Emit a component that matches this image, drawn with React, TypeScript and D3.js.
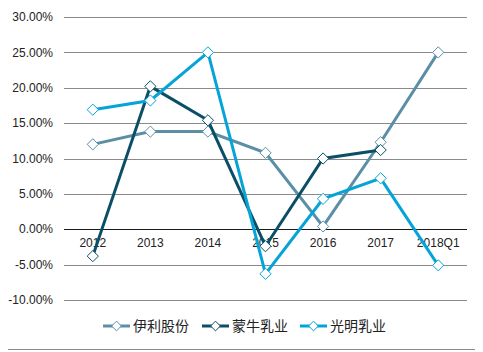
import React, { useEffect, useRef } from "react";
import * as d3 from "d3";

const categories = ["2012", "2013", "2014", "2015", "2016", "2017", "2018Q1"];
const seriesNames = ["伊利股份", "蒙牛乳业", "光明乳业"];
const yili = [12.0, 13.8, 13.8, 10.8, 0.4, 12.3, 25.0];
const mengniu = [-3.8, 20.2, 15.4, -2.4, 10.0, 11.2, null];
const guangming = [16.9, 18.2, 25.0, -6.3, 4.3, 7.2, -5.1];
const yTicks = [-10, -5, 0, 5, 10, 15, 20, 25, 30];
const colors = ["#5b8fa6", "#0b4f67", "#05a4d8"];

const App: React.FC = () => {
  const ref = useRef<SVGSVGElement | null>(null);

  useEffect(() => {
    if (!ref.current) return;
    const width = 483;
    const height = 352;
    const margin = { top: 17, right: 16, bottom: 52, left: 64 };

    const svg = d3.select(ref.current);
    svg.selectAll("*").remove();
    svg.attr("width", width).attr("height", height);

    // outer frame
    svg
      .append("rect")
      .attr("x", 1.5)
      .attr("y", 1.5)
      .attr("width", width - 4)
      .attr("height", height - 4)
      .attr("fill", "white")
      .attr("stroke", "#8c8c8c");

    const x = d3
      .scaleBand<string>()
      .domain(categories)
      .range([margin.left, width - margin.right]);
    const y = d3
      .scaleLinear()
      .domain([-10, 30])
      .range([height - margin.bottom, margin.top]);

    const font = "Arial, 'Liberation Sans', 'Noto Sans CJK SC', sans-serif";

    // grid
    svg
      .append("g")
      .selectAll("line")
      .data(yTicks)
      .join("line")
      .attr("x1", margin.left)
      .attr("x2", width - margin.right)
      .attr("y1", (d) => Math.round(y(d)) + 0.5)
      .attr("y2", (d) => Math.round(y(d)) + 0.5)
      .attr("stroke", (d) => (d === 0 ? "#1a1a1a" : "#8a8a8a"))
      .attr("stroke-width", 1);

    // y labels
    svg
      .append("g")
      .selectAll("text")
      .data(yTicks)
      .join("text")
      .attr("x", 53)
      .attr("y", (d) => y(d))
      .attr("dy", "0.35em")
      .attr("text-anchor", "end")
      .style("font-family", font)
      .style("font-size", "12px")
      .attr("fill", "#222")
      .text((d) => `${d.toFixed(2)}%`);

    // x labels
    svg
      .append("g")
      .selectAll("text")
      .data(categories)
      .join("text")
      .attr("x", (d) => x(d)! + x.bandwidth() / 2)
      .attr("y", y(0) + 18)
      .attr("text-anchor", "middle")
      .style("font-family", font)
      .style("font-size", "12px")
      .attr("fill", "#222")
      .text((d) => d);

    const allSeries = [yili, mengniu, guangming];
    const line = d3
      .line<number | null>()
      .defined((d) => d !== null)
      .x((_, i) => x(categories[i])! + x.bandwidth() / 2)
      .y((d) => y(d as number));

    const diamond = d3.symbol().type(d3.symbolDiamond2).size(80);

    allSeries.forEach((vals, si) => {
      const g = svg.append("g");
      g.append("path")
        .datum(vals)
        .attr("d", line)
        .attr("fill", "none")
        .attr("stroke", colors[si])
        .attr("stroke-width", 3);
      g.selectAll("path.m")
        .data(vals.map((v, i) => ({ v, i })).filter((d) => d.v !== null))
        .join("path")
        .attr("class", "m")
        .attr("d", diamond()!)
        .attr(
          "transform",
          (d) =>
            `translate(${x(categories[d.i])! + x.bandwidth() / 2},${y(d.v as number)})`
        )
        .attr("fill", "white")
        .attr("stroke", colors[si])
        .attr("stroke-width", 1);
    });

    // legend
    const legendX = [103, 202, 300];
    const ly = 326;
    seriesNames.forEach((name, i) => {
      const g = svg.append("g");
      g.append("line")
        .attr("x1", legendX[i])
        .attr("x2", legendX[i] + 27)
        .attr("y1", ly)
        .attr("y2", ly)
        .attr("stroke", colors[i])
        .attr("stroke-width", 3);
      g.append("path")
        .attr("d", d3.symbol().type(d3.symbolDiamond2).size(60)()!)
        .attr("transform", `translate(${legendX[i] + 13.5},${ly})`)
        .attr("fill", "white")
        .attr("stroke", colors[i]);
      g.append("text")
        .attr("x", legendX[i] + 30)
        .attr("y", ly)
        .attr("dy", "0.35em")
        .style("font-family", font)
        .style("font-size", "14px")
        .attr("fill", "#222")
        .text(name);
    });
  }, []);

  return <svg ref={ref} style={{ display: "block", marginLeft: -8, marginTop: -8 }}></svg>;
};

export default App;
